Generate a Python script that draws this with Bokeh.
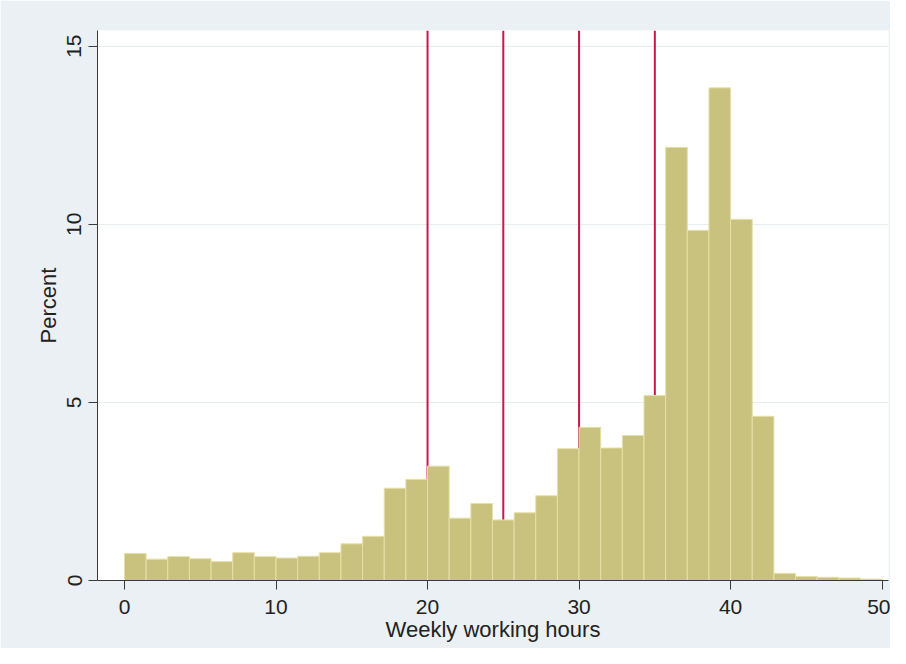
from bokeh.plotting import figure
from bokeh.models import Range1d, Span, FixedTicker
from bokeh.embed import file_html
from bokeh.resources import INLINE

# --- data ---
bin_start = 0.0
bin_width = 50.0 / 35
percent = [0.76, 0.60, 0.67, 0.61, 0.53, 0.78, 0.67, 0.63, 0.68, 0.78,
           1.03, 1.24, 2.59, 2.84, 3.21, 1.75, 2.16, 1.70, 1.90, 2.38,
           3.70, 4.30, 3.72, 4.07, 5.19, 12.16, 9.83, 13.83, 10.14, 4.61,
           0.20, 0.11, 0.09, 0.07, 0.04]
cutoffs = [20, 25, 30, 35]
x_ticks = [0, 10, 20, 30, 40, 50]
y_ticks = [0, 5, 10, 15]
x_title = "Weekly working hours"
y_title = "Percent"

n = len(percent)
left = [bin_start + i * bin_width for i in range(n)]
right = [bin_start + (i + 1) * bin_width for i in range(n)]

FONT = "Liberation Sans"
BG = "#eaf0f3"

p = figure(width=890, height=648, output_backend="svg", toolbar_location=None,
           x_range=Range1d(-1.78, 50.42), y_range=Range1d(0, 15.44),
           min_border_left=97, min_border_right=2, min_border_top=30,
           min_border_bottom=68)
p.background_fill_color = "white"
p.border_fill_color = BG
p.outline_line_color = None

for c in cutoffs:
    p.add_layout(Span(location=c, dimension="height", line_color="#c8184a",
                      line_width=2, level="underlay"))

p.quad(left=left, right=right, top=percent, bottom=0,
       fill_color="#c9c17e", line_color="#e6e0a8", line_width=1)

p.xgrid.visible = False
p.ygrid.ticker = FixedTicker(ticks=[5, 10, 15])
p.ygrid.grid_line_color = "#e6edf0"
p.ygrid.grid_line_width = 1

for ax in (p.xaxis[0], p.yaxis[0]):
    ax.axis_line_color = "#3a3a3a"
    ax.major_tick_line_color = "#3a3a3a"
    ax.major_tick_out = 9
    ax.major_tick_in = 0
    ax.minor_tick_line_color = None
    ax.major_label_text_font = FONT
    ax.major_label_text_font_size = "21px"
    ax.major_label_text_color = "#222222"
    ax.axis_label_text_font = FONT
    ax.axis_label_text_font_size = "22px"
    ax.axis_label_text_font_style = "normal"
    ax.axis_label_text_color = "#222222"

p.xaxis[0].ticker = FixedTicker(ticks=x_ticks)
p.yaxis[0].ticker = FixedTicker(ticks=y_ticks)
p.xaxis[0].axis_label = x_title
p.yaxis[0].axis_label = y_title
p.yaxis[0].major_label_orientation = "vertical"
p.xaxis[0].major_label_standoff = 10
p.xaxis[0].axis_label_standoff = 0
p.yaxis[0].major_label_standoff = 7
p.yaxis[0].axis_label_standoff = 4

open("out.html", "w").write(file_html(p, INLINE))
